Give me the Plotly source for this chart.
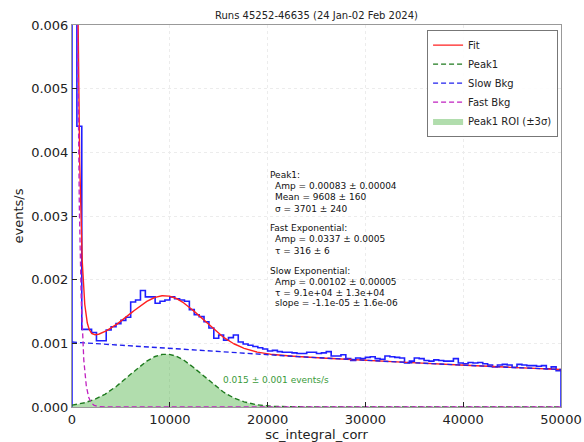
import numpy as np
import plotly.graph_objects as go

# ---------------- data ----------------
title_text = "Runs 45252-46635 (24 Jan-02 Feb 2024)"
x_label = "sc_integral_corr"
y_label = "events/s"

bin_width = 500
bin_edges = list(range(0, 50001, bin_width))

# histogram rates (events/s) per 500-wide bin
rate = [
    0.01500, 0.00441, 0.00122, 0.00122, 0.00117, 0.00104, 0.00104, 0.00121, 0.00126, 0.00131,
    0.00136, 0.00141, 0.00165, 0.00168, 0.00183, 0.00173, 0.00173, 0.00163, 0.00166, 0.00168,
    0.00173, 0.00170, 0.00168, 0.00166, 0.00153, 0.00145, 0.00142, 0.00134, 0.00124, 0.00108,
    0.00113, 0.00105, 0.00109, 0.00113, 0.00102, 0.00099, 0.00097, 0.00095, 0.00093, 0.00091,
    0.00088, 0.00089, 0.00087, 0.00086, 0.00086, 0.00085, 0.00084, 0.00084, 0.00086, 0.00086,
    0.00084, 0.00085, 0.00087, 0.00080, 0.00080, 0.00082, 0.00076, 0.00073, 0.00077, 0.00076,
    0.00078, 0.00079, 0.00076, 0.00075, 0.00080, 0.00079, 0.00078, 0.00077, 0.00069, 0.00072,
    0.00077, 0.00076, 0.00073, 0.00072, 0.00074, 0.00073, 0.00072, 0.00072, 0.00076, 0.00069,
    0.00068, 0.00070, 0.00069, 0.00070, 0.00068, 0.00066, 0.00063, 0.00066, 0.00067, 0.00066,
    0.00062, 0.00067, 0.00066, 0.00065, 0.00065, 0.00064, 0.00065, 0.00060, 0.00063, 0.00057,
]

# fit parameters (as printed on the chart)
peak_amp, peak_mean, peak_sigma = 0.00083, 9608.0, 3701.0
fast_amp, fast_tau = 0.0337, 316.0
slow_amp, slow_tau = 0.00102, 9.1e4

fit_text = [
    ("Peak1:", 0), ("Amp = 0.00083 ± 0.00004", 1), ("Mean = 9608 ± 160", 1), ("σ = 3701 ± 240", 1),
    ("Fast Exponential:", 0), ("Amp = 0.0337 ± 0.0005", 1), ("τ = 316 ± 6", 1),
    ("Slow Exponential:", 0), ("Amp = 0.00102 ± 0.00005", 1), ("τ = 9.1e+04 ± 1.3e+04", 1),
    ("slope = -1.1e-05 ± 1.6e-06", 1),
]
fit_text_ypx = [175, 186, 197, 209, 228, 239, 251, 271, 282, 293, 303]
roi_text = "0.015 ± 0.001 events/s"

# ---------------- model curves ----------------
xm = np.unique(np.concatenate([np.linspace(0, 3000, 601), np.linspace(3000, 50000, 941)]))
peak = peak_amp * np.exp(-0.5 * ((xm - peak_mean) / peak_sigma) ** 2)
fast = fast_amp * np.exp(-xm / fast_tau)
slow = slow_amp * np.exp(-xm / slow_tau)
fit = peak + fast + slow

roi_lo = max(0.0, peak_mean - 3 * peak_sigma)
roi_hi = peak_mean + 3 * peak_sigma
xr = np.linspace(roi_lo, roi_hi, 400)
yr = peak_amp * np.exp(-0.5 * ((xr - peak_mean) / peak_sigma) ** 2)

# step outline
hx = [0] + bin_edges[:-1] + [bin_edges[-1]]
hy = [0] + rate + [0]

fig = go.Figure()
fig.add_trace(go.Scatter(x=hx, y=hy, mode="lines", line=dict(color="#1f1fff", width=1.6, shape="hv"),
                         showlegend=False, hoverinfo="skip"))
fig.add_trace(go.Scatter(x=xr, y=yr, mode="lines", fill="tozeroy", fillcolor="rgba(70,175,60,0.42)",
                         line=dict(width=0, color="rgba(70,175,60,0.42)"), name="Peak1 ROI (±3σ)", legendrank=5))
fig.add_trace(go.Scatter(x=xm, y=fit, mode="lines", line=dict(color="#ff2020", width=1.4), name="Fit", legendrank=1))
fig.add_trace(go.Scatter(x=xm, y=peak, mode="lines", line=dict(color="#1e7a1e", width=1.4, dash="5px,3px"),
                         name="Peak1", legendrank=2))
fig.add_trace(go.Scatter(x=xm, y=slow, mode="lines", line=dict(color="#2020ee", width=1.4, dash="5px,3px"),
                         name="Slow Bkg", legendrank=3))
fig.add_trace(go.Scatter(x=xm, y=fast, mode="lines", line=dict(color="#c020c0", width=1.3, dash="5px,3px"),
                         name="Fast Bkg", legendrank=4))

L, R, T, B = 72, 23, 25, 35
W, H = 584, 442
pw, ph = W - L - R, H - T - B

annots = []
for (txt, indent), ypx in zip(fit_text, fit_text_ypx):
    xpx = 268 + (5 if indent else 0)
    annots.append(dict(x=(xpx - L) / pw, y=(H - B - ypx) / ph, xref="paper", yref="paper",
                       text=txt, showarrow=False, xanchor="left", yanchor="middle",
                       font=dict(size=9, color="#111111", family="DejaVu Sans")))
annots.append(dict(x=15200, y=0.00043, xref="x", yref="y", text=roi_text, showarrow=False,
                   xanchor="left", yanchor="middle", font=dict(size=9, color="#3a9a3a", family="DejaVu Sans")))
annots.append(dict(x=0.5, y=(H - 15 - B) / ph, xref="paper", yref="paper", text=title_text, showarrow=False,
                   xanchor="center", yanchor="middle", font=dict(size=10, color="#222", family="DejaVu Sans")))

fig.update_layout(
    width=W, height=H, margin=dict(l=L, r=R, t=T, b=B),
    paper_bgcolor="white", plot_bgcolor="white",
    font=dict(family="DejaVu Sans", color="#222"),
    annotations=annots,
    legend=dict(x=0.994, y=0.988, xanchor="right", yanchor="top", bgcolor="rgba(255,255,255,0.9)",
                bordercolor="#777", borderwidth=1, font=dict(size=10, family="DejaVu Sans"),
                tracegroupgap=0, itemwidth=30),
    showlegend=True,
)
fig.update_xaxes(range=[0, 50000], tickvals=[0, 10000, 20000, 30000, 40000, 50000],
                 ticktext=["0", "10000", "20000", "30000", "40000", "50000"],
                 ticks="inside", ticklen=5, tickcolor="#222", showline=True, linecolor="#999", mirror=True,
                 showgrid=True, gridcolor="#ececec", griddash="dot", zeroline=False, automargin=False,
                 tickfont=dict(size=13), title=dict(text=x_label, font=dict(size=13), standoff=2))
fig.update_yaxes(range=[0, 0.006], tickvals=[0, 0.001, 0.002, 0.003, 0.004, 0.005, 0.006],
                 ticktext=["0.000", "0.001", "0.002", "0.003", "0.004", "0.005", "0.006"],
                 ticks="inside", ticklen=5, tickcolor="#222", showline=True, linecolor="#999", mirror=True,
                 showgrid=True, gridcolor="#ececec", griddash="dot", zeroline=False, automargin=False,
                 tickfont=dict(size=13), title=dict(text=y_label, font=dict(size=13), standoff=4))

fig.write_html("out.html", config={"displayModeBar": False},
               post_script="document.body.style.margin='0px';document.body.style.overflow='hidden';")
